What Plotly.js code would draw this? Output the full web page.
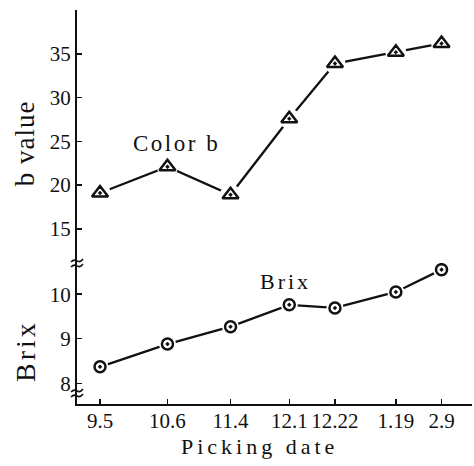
<!DOCTYPE html>
<html><head><meta charset="utf-8">
<script src="https://cdn.plot.ly/plotly-3.0.1.min.js"></script>
<style>html,body{margin:0;padding:0;background:#fff}</style>
</head><body><div id="chart" style="width:474px;height:466px"></div>
<script>
// Picking dates (month.day) and values
const pickDates = ['2000-09-05','2000-10-06','2000-11-04','2000-12-01','2000-12-22','2001-01-19','2001-02-09'];
const tickLabels = ['9.5','10.6','11.4','12.1','12.22','1.19','2.9'];
const colorB = [19.1, 22.1, 18.9, 27.6, 33.9, 35.2, 36.2];
const brix = [8.37, 8.88, 9.27, 9.76, 9.69, 10.05, 10.55];
const bTicks = [15, 20, 25, 30, 35];
const brixTicks = [8, 9, 10];

const FONT = '"Liberation Serif", "Times New Roman", Times, "DejaVu Serif", serif';
const ink = '#111';

function series(y, yref, sym, size, underSize) {
  return [
    {x: pickDates, y: y, yaxis: yref, mode: 'lines', line: {color: ink, width: 2.3}, hoverinfo: 'skip', showlegend: false},
    {x: pickDates, y: y, yaxis: yref, mode: 'markers', marker: {symbol: 'circle', size: underSize, color: '#fff'}, hoverinfo: 'skip', showlegend: false},
    {x: pickDates, y: y, yaxis: yref, mode: 'markers', marker: {symbol: sym, size: size, color: ink, line: {color: ink, width: 2.5}}, showlegend: false}
  ];
}

const data = [].concat(
  series(colorB, 'y', 'triangle-up-open-dot', 14, 21),
  series(brix, 'y2', 'circle-open-dot', 11, 17)
);

const axCommon = {
  showline: true, linecolor: ink, linewidth: 2, showgrid: false, zeroline: false,
  ticks: 'inside', ticklen: 5, tickwidth: 1.5, tickcolor: ink,
  tickfont: {family: FONT, size: 21, color: ink}
};

function breakMark(yPaper) {
  return {
    type: 'path', xref: 'paper', yref: 'paper', xsizemode: 'pixel', ysizemode: 'pixel',
    xanchor: 0, yanchor: yPaper,
    path: 'M-6,-4 Q-3,-1 0,-3 T6,-1 M-6,1 Q-3,4 0,2 T6,4',
    line: {color: ink, width: 1.6}
  };
}

function ann(text, x, y, size, spacing, angle) {
  return {
    text: '<span style="letter-spacing:' + spacing + 'px">' + text + '</span>',
    xref: 'paper', yref: 'paper', x: x, y: y, showarrow: false,
    xanchor: 'center', yanchor: 'middle', textangle: angle || 0,
    font: {family: FONT, size: size, color: ink}
  };
}

const layout = {
  width: 474, height: 466,
  margin: {l: 77, r: 2, t: 10, b: 62},
  paper_bgcolor: '#fff', plot_bgcolor: '#fff',
  font: {family: FONT, color: ink},
  xaxis: Object.assign({}, axCommon, {
    type: 'date', anchor: 'y2',
    range: ['2000-08-25 10:00', '2001-02-23'],
    tickmode: 'array', tickvals: pickDates, ticktext: tickLabels,
    ticklabelstandoff: -3
  }),
  yaxis: Object.assign({}, axCommon, {
    domain: [0.358, 1], range: [11.1, 40.03], anchor: 'x',
    tickmode: 'array', tickvals: bTicks
  }),
  yaxis2: Object.assign({}, axCommon, {
    domain: [0, 0.358], range: [7.535, 10.70], anchor: 'x',
    tickmode: 'array', tickvals: brixTicks
  }),
  shapes: [breakMark(0.358), breakMark(0.028)],
  annotations: [
    ann('b value', -0.1316, 0.662, 27, 1, -90),
    ann('Brix', -0.1316, 0.1345, 28, 3, -90),
    ann('Color b', 0.253, 0.662, 23, 2.5),
    ann('Brix', 0.529, 0.312, 22, 3),
    ann('Picking date', 0.463, -0.109, 22, 4)
  ]
};

Plotly.newPlot('chart', data, layout, {staticPlot: true, displayModeBar: false});
</script>
</body></html>
